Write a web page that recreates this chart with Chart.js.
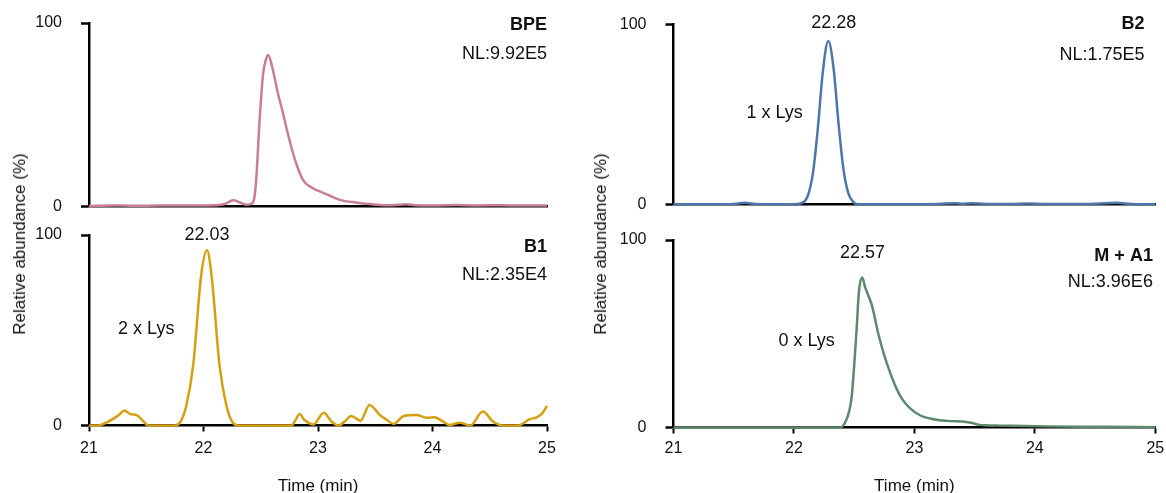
<!DOCTYPE html>
<html>
<head>
<meta charset="utf-8">
<title>Extracted ion chromatograms</title>
<script src="https://cdn.jsdelivr.net/npm/chart.js@4.4.1/dist/chart.umd.min.js"></script>
<style>
  html, body { margin: 0; padding: 0; background: #fff; overflow: hidden; }
  #wrap { position: relative; width: 1166px; height: 493px; overflow: hidden;
          font-family: 'Liberation Sans', Arial, sans-serif; }
  .panel { position: absolute; }
  .ytitle { position: absolute; font-size: 17px; color: #111; white-space: nowrap;
            transform: translate(-50%, -50%) rotate(-90deg); }
</style>
</head>
<body>
<div id="wrap">
  <div class="panel" style="left:0;top:0;width:583px;height:220px"><canvas id="cBPE"></canvas></div>
  <div class="panel" style="left:0;top:220px;width:583px;height:275px"><canvas id="cB1"></canvas></div>
  <div class="panel" style="left:583px;top:0;width:583px;height:220px"><canvas id="cB2"></canvas></div>
  <div class="panel" style="left:583px;top:220px;width:583px;height:275px"><canvas id="cMA1"></canvas></div>
  <div class="ytitle" style="left:20px;top:244px">Relative abundance (%)</div>
  <div class="ytitle" style="left:601px;top:244px">Relative abundance (%)</div>
</div>

<script>
/* ---------- data (time in min, relative abundance in %) ---------- */
const timeTicks      = [21, 22, 23, 24, 25];
const abundanceTicks = [0, 100];

// BPE
const timeBPE = [21.00, 21.20, 21.40, 21.60, 21.80, 22.00, 22.10, 22.18, 22.26, 22.32, 22.37, 22.41,
                 22.44, 22.46, 22.49, 22.52, 22.545, 22.565, 22.60, 22.65, 22.69, 22.73, 22.80, 22.87,
                 22.94, 23.02, 23.10, 23.19, 23.34, 23.45, 23.54, 23.65, 23.77, 23.85, 24.00, 24.20,
                 24.40, 24.60, 24.80, 25.00];
const valBPE  = [0.3, 0.6, 0.4, 0.5, 0.5, 0.6, 0.7, 1.2, 3.4, 2.2, 1.0, 1.3,
                 3.6, 14.4, 47, 72, 80, 82.6, 76, 61.6, 52, 41.4, 25.3, 14.4,
                 10.5, 8.1, 6.0, 3.6, 2.1, 1.3, 0.8, 0.7, 1.2, 0.7, 0.6, 0.8,
                 0.6, 0.7, 0.5, 0.6];

// B1 (2 x Lys)
const timeB1 = [21.00, 21.06, 21.10, 21.16, 21.21, 21.26, 21.31, 21.36, 21.42, 21.47, 21.52, 21.75,
                21.80, 21.85, 21.91, 21.98, 22.03, 22.07, 22.14, 22.20, 22.25, 22.30, 22.77, 22.80,
                22.84, 22.88, 22.96, 23.05, 23.12, 23.18, 23.24, 23.29, 23.37, 23.45, 23.54, 23.60,
                23.66, 23.75, 23.86, 23.95, 24.02, 24.08, 24.15, 24.24, 24.33, 24.44, 24.53, 24.62,
                24.75, 24.85, 24.91, 24.96, 25.00];
const valB1  = [0, 0, 0.3, 1.8, 3.5, 5.5, 7.9, 6.0, 5.3, 2.5, 0, 0,
                2, 10.5, 31.6, 79, 92, 79, 31.6, 10.5, 2, 0, 0, 2.5,
                6, 3, 0.5, 6.7, 2, 0, 2.5, 5, 2.5, 10.8, 5.5, 3,
                0.8, 5, 5.5, 4.1, 4.3, 2.5, 0.3, 1.5, 0, 7.3, 2, 0,
                0, 3.3, 4.3, 6.5, 10.3];

// B2 (1 x Lys)
const timeB2 = [21.00, 21.30, 21.50, 21.59, 21.68, 21.80, 22.00, 22.08, 22.12, 22.16, 22.20, 22.24,
                22.285, 22.33, 22.37, 22.41, 22.45, 22.49, 22.53, 22.70, 23.00, 23.20, 23.34, 23.40,
                23.47, 23.60, 23.80, 23.94, 24.10, 24.40, 24.68, 24.80, 25.00];
const valB2  = [0, 0, 0.2, 0.8, 0.2, 0, 0, 1.2, 5.6, 18.4, 43.4, 73.8,
                90.7, 75, 45, 20, 6.5, 1.5, 0, 0, 0, 0.2, 0.6, 0.3,
                0.6, 0.2, 0.2, 0.5, 0.2, 0.2, 0.8, 0.2, 0];

// M + A1 (0 x Lys)
const timeMA1 = [21.00, 22.00, 22.38, 22.42, 22.46, 22.48, 22.50, 22.52, 22.54, 22.567, 22.59, 22.62,
                 22.65, 22.70, 22.75, 22.80, 22.85, 22.90, 22.96, 23.05, 23.13, 23.21, 23.30,
                 23.40, 23.47, 23.54, 23.62, 23.71, 24.10, 24.54, 25.00];
const valMA1  = [0, 0, 0, 2, 9, 16.7, 33, 52, 73, 80, 75, 70,
                 64.5, 50, 38.5, 29, 21, 15, 10.5, 6.4, 4.8, 3.9, 3.4,
                 3.2, 2.5, 1.4, 1.1, 1.0, 0.6, 0.4, 0.2];

const FONT = "'Liberation Sans', Arial, sans-serif";
const TEXT = '#111';

/* ---------- text notes drawn at data coordinates ---------- */
function notesPlugin(items) {
  return {
    id: 'notes',
    afterDatasetsDraw(chart) {
      const ctx = chart.ctx, xs = chart.scales.x, ys = chart.scales.y;
      ctx.save();
      items.forEach(function (n) {
        ctx.font = (n.bold ? 'bold ' : '') + '18px ' + FONT;
        ctx.fillStyle = TEXT;
        ctx.textAlign = n.align || 'center';
        ctx.textBaseline = 'middle';
        ctx.fillText(n.text, xs.getPixelForValue(n.t), ys.getPixelForValue(n.v));
      });
      ctx.restore();
    }
  };
}

/* ---------- one chromatogram panel ---------- */
function makePanel(id, times, values, color, p) {
  const points = times.map(function (t, i) { return { x: t, y: values[i] }; });
  return new Chart(document.getElementById(id), {
    type: 'line',
    data: {
      datasets: [{
        data: points,
        borderColor: color,
        borderWidth: 2.5,
        pointRadius: 0,
        fill: false,
        cubicInterpolationMode: 'monotone',
        clip: false
      }]
    },
    plugins: [notesPlugin(p.notes)],
    options: {
      responsive: true,
      maintainAspectRatio: false,
      animation: false,
      events: [],
      layout: { padding: { left: 0, right: p.right, top: p.top, bottom: 0 } },
      plugins: { legend: { display: false }, tooltip: { enabled: false } },
      scales: {
        x: {
          type: 'linear', min: 21, max: 25,
          afterBuildTicks: function (s) { s.ticks = timeTicks.map(function (v) { return { value: v }; }); },
          afterFit: function (s) { s.height = p.xHeight; s.paddingLeft = 0; s.paddingRight = 0; },
          grid: { drawOnChartArea: false, drawTicks: p.showX, tickLength: 6, tickColor: '#000', tickWidth: 2 },
          border: { display: true, color: '#000', width: 2.5 },
          ticks: { display: p.showX, padding: p.xPad, color: TEXT, font: { family: FONT, size: 16 }, maxRotation: 0 },
          title: { display: p.showX, text: 'Time (min)', color: TEXT, padding: 0,
                   font: { family: FONT, size: 17, lineHeight: 1 } }
        },
        y: {
          min: 0, max: 100,
          afterBuildTicks: function (s) { s.ticks = abundanceTicks.map(function (v) { return { value: v }; }); },
          // fixed width; drop the label padding so the plot area keeps its place
          afterFit: function (s) { s.width = p.yWidth; s.paddingTop = 0; s.paddingBottom = 0; },
          grid: { drawOnChartArea: false, tickLength: 8, tickColor: '#000', tickWidth: 2.5 },
          border: { display: true, color: '#000', width: 2.5 },
          ticks: { padding: 19, color: TEXT, font: { family: FONT, size: 16 } }
        }
      }
    }
  });
}

makePanel('cBPE', timeBPE, valBPE, '#c97d97', {
  top: 23, right: 36, yWidth: 89, xHeight: 13.5, showX: false, xPad: 0,
  notes: [
    { t: 25.0, v: 99, text: 'BPE', bold: true, align: 'right' },
    { t: 25.0, v: 83, text: 'NL:9.92E5', align: 'right' }
  ]
});

makePanel('cB1', timeB1, valB1, '#d4a012', {
  top: 15, right: 36, yWidth: 89, xHeight: 69.5, showX: true, xPad: 7,
  notes: [
    { t: 22.03, v: 100, text: '22.03' },
    { t: 21.50, v: 50.7, text: '2 x Lys' },
    { t: 25.0, v: 93.7, text: 'B1', bold: true, align: 'right' },
    { t: 25.0, v: 79, text: 'NL:2.35E4', align: 'right' }
  ]
});

makePanel('cB2', timeB2, valB2, '#4d76a9', {
  top: 24.3, right: 10.7, yWidth: 90.5, xHeight: 15.7, showX: false, xPad: 0,
  notes: [
    { t: 22.33, v: 100.6, text: '22.28' },
    { t: 21.84, v: 50.6, text: '1 x Lys' },
    { t: 24.91, v: 100.2, text: 'B2', bold: true, align: 'right' },
    { t: 24.91, v: 82.9, text: 'NL:1.75E5', align: 'right' }
  ]
});

makePanel('cMA1', timeMA1, valMA1, '#5d8a6d', {
  top: 20, right: 10.7, yWidth: 90.5, xHeight: 67.5, showX: true, xPad: 5,
  notes: [
    { t: 22.57, v: 93.2, text: '22.57' },
    { t: 22.105, v: 46.3, text: '0 x Lys' },
    { t: 24.98, v: 91.5, text: 'M + A1', bold: true, align: 'right' },
    { t: 24.98, v: 77.7, text: 'NL:3.96E6', align: 'right' }
  ]
});
</script>
</body>
</html>
